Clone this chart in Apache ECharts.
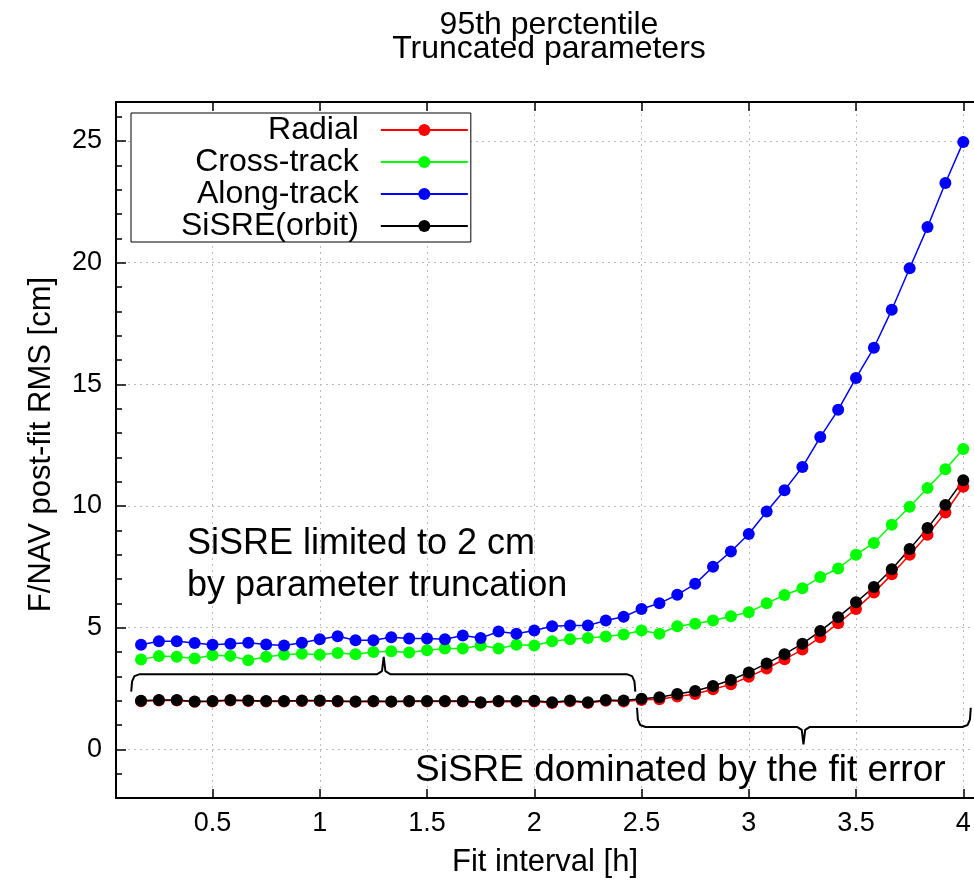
<!DOCTYPE html>
<html>
<head>
<meta charset="utf-8">
<title>95th percentile - truncated parameters</title>
<script src="https://cdn.jsdelivr.net/npm/echarts@6/dist/echarts.min.js"></script>
<style>
    html, body { margin: 0; padding: 0; background: #fff; }
    #chart { width: 974px; height: 883px; }
</style>
</head>
<body>
<div id="chart"></div>
<script>
// fit interval, minutes
var minutes = [10, 15, 20, 25, 30, 35, 40, 45, 50, 55, 60, 65, 70, 75, 80, 85, 90, 95, 100, 105,
    110, 115, 120, 125, 130, 135, 140, 145, 150, 155, 160, 165, 170, 175, 180, 185, 190, 195,
    200, 205, 210, 215, 220, 225, 230, 235, 240];

// post-fit RMS [cm]
var radial = [1.98, 2.01, 2.01, 1.95, 1.97, 2.01, 1.99, 1.97, 1.97, 1.99,
    1.99, 1.97, 1.95, 1.97, 1.95, 1.97, 1.97, 1.97, 1.97, 1.91,
    1.97, 1.96, 1.97, 1.90, 1.98, 1.90, 2.00, 1.97, 2.03, 2.06,
    2.17, 2.27, 2.47, 2.67, 2.98, 3.32, 3.70, 4.10, 4.61, 5.18,
    5.77, 6.44, 7.19, 8.00, 8.82, 9.73, 10.79];
var crossTrack = [3.69, 3.83, 3.80, 3.73, 3.87, 3.84, 3.66, 3.80, 3.89, 3.93,
    3.89, 3.96, 3.91, 4.00, 4.03, 3.98, 4.07, 4.14, 4.14, 4.27,
    4.14, 4.30, 4.27, 4.44, 4.52, 4.57, 4.64, 4.72, 4.88, 4.75,
    5.06, 5.16, 5.29, 5.47, 5.63, 6.00, 6.34, 6.62, 7.08, 7.43,
    8.00, 8.48, 9.23, 9.97, 10.74, 11.51, 12.34];
var alongTrack = [4.30, 4.44, 4.44, 4.37, 4.30, 4.34, 4.38, 4.31, 4.27, 4.38,
    4.52, 4.65, 4.48, 4.48, 4.61, 4.55, 4.55, 4.52, 4.68, 4.57,
    4.84, 4.75, 4.88, 5.06, 5.09, 5.09, 5.29, 5.45, 5.77, 6.00,
    6.35, 6.80, 7.50, 8.13, 8.85, 9.77, 10.65, 11.60, 12.83, 13.95,
    15.26, 16.50, 18.06, 19.77, 21.46, 23.27, 24.96];
var sisre = [2.00, 2.03, 2.03, 1.97, 1.99, 2.03, 2.01, 1.99, 1.99, 2.01,
    2.01, 1.99, 1.97, 1.99, 1.97, 1.99, 1.99, 1.99, 1.99, 1.93,
    1.99, 1.99, 2.00, 1.93, 2.01, 1.93, 2.03, 2.01, 2.08, 2.14,
    2.27, 2.40, 2.60, 2.85, 3.16, 3.53, 3.91, 4.34, 4.86, 5.43,
    6.04, 6.67, 7.40, 8.23, 9.09, 10.04, 11.06];

var xTicks = [0.5, 1, 1.5, 2, 2.5, 3, 3.5, 4];
var yTicks = [0, 5, 10, 15, 20, 25];
var yMinorTicks = [-2, -1, 1, 2, 3, 4, 6, 7, 8, 9, 11, 12, 13, 14, 16, 17, 18, 19, 21, 22, 23, 24, 26];

// braces: [from, to, tip x, line level, end level, tip level]
var braceLeft = [0.121, 2.471, 1.298, 3.09, 2.37, 3.80];
var braceRight = [2.479, 4.035, 3.255, 0.92, 1.71, 0.20];

var FONT = '"Liberation Sans", Arial, Helvetica, sans-serif';
var chart = echarts.init(document.getElementById('chart'));

function toPairs(vals) {
    return vals.map(function (v, i) { return [minutes[i] / 60, v]; });
}

// polyline of a curly brace in data units
function braceLine(b) {
    var x0 = b[0], x1 = b[1], xm = b[2], y = b[3], ye = b[4], yt = b[5];
    var s = yt > y ? 1 : -1;
    return [
        [x0, ye], [x0 + 0.004, y - s * 0.3], [x0 + 0.015, y - s * 0.08], [x0 + 0.04, y],
        [xm - 0.03, y], [xm - 0.008, y + s * 0.12], [xm, yt],
        [xm + 0.008, y + s * 0.12], [xm + 0.03, y],
        [x1 - 0.04, y], [x1 - 0.015, y - s * 0.08], [x1 - 0.004, y - s * 0.3], [x1, ye]
    ];
}

function dataSeries(name, color, vals) {
    return {
        name: name, type: 'line', data: toPairs(vals),
        symbol: 'circle', symbolSize: 12,
        itemStyle: { color: color },
        lineStyle: { color: color, width: 1.5 },
        emphasis: { disabled: true }
    };
}

function braceSeries(b) {
    return {
        type: 'line', data: braceLine(b), symbol: 'none', silent: true, clip: false,
        lineStyle: { color: '#000', width: 2 }, z: 3
    };
}

function label(text, x, y, size) {
    return {
        type: 'text', x: x, y: y, z: 10,
        style: { text: text, font: size + 'px ' + FONT, fill: '#000', align: 'left', verticalAlign: 'middle' }
    };
}

var axisLineStyle = { color: '#000', width: 2 };
var gridLineStyle = { color: '#bdbdbd', width: 1, type: [2, 4] };

var option = {
    animation: false,
    textStyle: { fontFamily: FONT, color: '#000' },
    grid: { left: 116, right: 0, top: 102, bottom: 78 },
    graphic: [
        { type: 'text', x: 549, y: 25, style: { text: '95th perctentile', font: '32px ' + FONT, fill: '#000', align: 'center', verticalAlign: 'middle' } },
        { type: 'text', x: 549, y: 49, style: { text: 'Truncated parameters', font: '32px ' + FONT, fill: '#000', align: 'center', verticalAlign: 'middle' } },
        label('SiSRE limited to 2 cm', 187, 544, 36),
        label('by parameter truncation', 187, 586, 36),
        label('SiSRE dominated by the fit error', 415, 771, 37)
    ],
    legend: {
        data: ['Radial', 'Cross-track', 'Along-track', 'SiSRE(orbit)'],
        orient: 'vertical', align: 'right',
        left: 131, top: 113,
        itemWidth: 87, itemHeight: 15, itemGap: 0,
        padding: [1, 2, 0, 50],
        borderColor: '#000', borderWidth: 1,
        backgroundColor: '#fff',
        selectedMode: false,
        textStyle: { fontSize: 32, lineHeight: 30, color: '#000', padding: [0, 17, 0, 0] }
    },
    xAxis: [{
        type: 'value', min: 0.05, max: 4.05, position: 'bottom',
        name: 'Fit interval [h]', nameLocation: 'middle', nameGap: 49,
        nameTextStyle: { fontSize: 31, color: '#000' },
        axisLine: { onZero: false, lineStyle: axisLineStyle },
        axisTick: { inside: true, length: 9, customValues: xTicks, lineStyle: { color: '#000', width: 1.5 } },
        axisLabel: { customValues: xTicks, fontSize: 27, color: '#000', margin: 12 },
        splitLine: { show: true, lineStyle: gridLineStyle }
    }, {
        type: 'value', min: 0.05, max: 4.05, position: 'top',
        axisLine: { onZero: false, lineStyle: axisLineStyle },
        axisTick: { inside: true, length: 9, customValues: xTicks, lineStyle: { color: '#000', width: 1.5 } },
        axisLabel: { show: false },
        splitLine: { show: false }
    }],
    yAxis: [{
        type: 'value', min: -2, max: 26.6, position: 'left',
        name: 'F/NAV post-fit RMS [cm]', nameLocation: 'middle', nameGap: 59,
        nameTextStyle: { fontSize: 31, color: '#000', padding: [0, 0, 0, 11] },
        axisLine: { onZero: false, lineStyle: axisLineStyle },
        axisTick: { inside: true, length: 10, customValues: yTicks, lineStyle: { color: '#000', width: 1.5 } },
        axisLabel: { customValues: yTicks, fontSize: 27, color: '#000', margin: 14 },
        splitLine: { show: true, lineStyle: gridLineStyle }
    }, {
        type: 'value', min: -2, max: 26.6, position: 'left',
        axisLine: { show: false },
        axisTick: { show: true, inside: true, length: 6, customValues: yMinorTicks, lineStyle: { color: '#000', width: 1.5 } },
        axisLabel: { show: false },
        splitLine: { show: false }
    }],
    series: [
        dataSeries('Radial', '#ff0000', radial),
        dataSeries('Cross-track', '#00ff00', crossTrack),
        dataSeries('Along-track', '#0000ff', alongTrack),
        dataSeries('SiSRE(orbit)', '#000000', sisre),
        braceSeries(braceLeft),
        braceSeries(braceRight)
    ]
};

chart.setOption(option);
</script>
</body>
</html>
